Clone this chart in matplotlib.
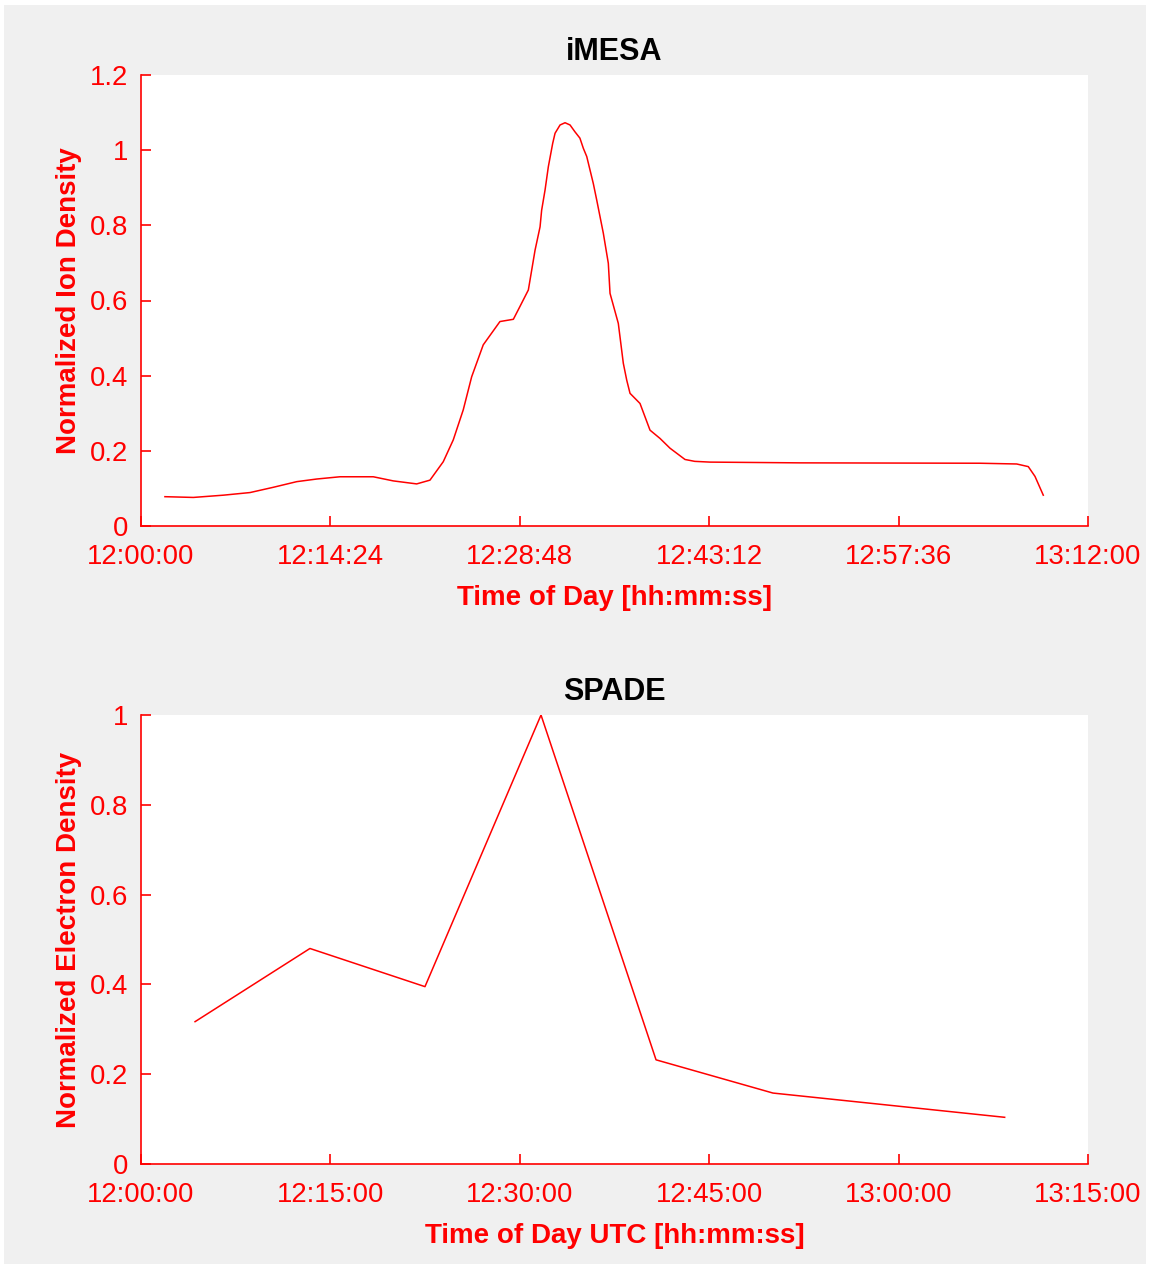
import matplotlib.pyplot as plt
from matplotlib.patches import Rectangle

plt.rcParams['font.family'] = ['Liberation Sans', 'DejaVu Sans']

# iMESA: minutes after 12:00:00 and normalized ion density
imesa_t = [1.82, 3.98, 6.26, 8.29, 10.06, 11.84, 13.36, 15.13, 17.66, 19.18,
           20.96, 21.97, 22.98, 23.74, 24.50, 25.14, 26.02, 27.29, 28.31, 28.81,
           29.45, 29.96, 30.34, 30.46, 30.72, 30.97, 31.30, 31.48, 31.86, 32.24,
           32.62, 32.99, 33.37, 33.63, 33.89, 34.14, 34.39, 34.65, 35.15, 35.53,
           35.66, 36.29, 36.67, 36.93, 37.18, 37.94, 38.70, 39.46, 40.22, 41.36,
           42.10, 43.26, 50.10, 63.79, 66.58, 67.46, 67.97, 68.60]
imesa_n = [0.078, 0.076, 0.082, 0.089, 0.103, 0.118, 0.125, 0.131, 0.131, 0.120,
           0.112, 0.122, 0.171, 0.229, 0.309, 0.397, 0.482, 0.544, 0.550, 0.584,
           0.628, 0.734, 0.796, 0.840, 0.894, 0.956, 1.018, 1.045, 1.067, 1.073,
           1.067, 1.049, 1.032, 1.005, 0.983, 0.947, 0.911, 0.867, 0.779, 0.699,
           0.619, 0.539, 0.433, 0.388, 0.353, 0.326, 0.255, 0.233, 0.207, 0.177,
           0.172, 0.170, 0.168, 0.167, 0.165, 0.158, 0.132, 0.082]

# SPADE: minutes after 12:00:00 and normalized electron density
spade_t = [4.28, 13.38, 22.49, 31.68, 40.79, 50.05, 68.40]
spade_n = [0.317, 0.480, 0.395, 1.0, 0.232, 0.158, 0.104]

top_ticks = [0, 14.4, 28.8, 43.2, 57.6, 72]
top_labels = ['12:00:00', '12:14:24', '12:28:48', '12:43:12', '12:57:36', '13:12:00']
bot_ticks = [0, 15, 30, 45, 60, 75]
bot_labels = ['12:00:00', '12:15:00', '12:30:00', '12:45:00', '13:00:00', '13:15:00']

red = '#ff0000'
W, H = 1151, 1268
fig = plt.figure(figsize=(W / 100, H / 100), dpi=100, facecolor='white')
fig.patches.append(Rectangle((4 / W, 4 / H), 1 - 9 / W, 1 - 9 / H,
                             transform=fig.transFigure, facecolor='#f0f0f0',
                             edgecolor='none', zorder=-10))


def style(ax, ticks, labels, xmax, ylabel, xlabel, title, yticks, ytl):
    ax.set_facecolor('white')
    for s in ['top', 'right']:
        ax.spines[s].set_visible(False)
    for s in ['left', 'bottom']:
        ax.spines[s].set_color(red)
        ax.spines[s].set_linewidth(1.2)
    ax.set_xlim(0, xmax)
    ax.set_xticks(ticks)
    ax.set_xticklabels(labels)
    ax.set_yticks(yticks)
    ax.set_yticklabels(ytl)
    ax.tick_params(direction='in', length=7, width=1.2, colors=red,
                   labelsize=19.8)
    ax.tick_params(axis='x', pad=13)
    ax.tick_params(axis='y', pad=9)
    ax.set_xlabel(xlabel, color=red, fontsize=20, fontweight='bold', labelpad=11)
    ax.set_ylabel(ylabel, color=red, fontsize=20, fontweight='bold', labelpad=6)
    ax.set_title(title, color='black', fontsize=22, fontweight='bold', pad=11)


ax1 = fig.add_axes([141 / W, 1 - 526 / H, 947 / W, 451 / H])
ax1.plot(imesa_t, imesa_n, color=red, lw=1.1)
ax1.set_ylim(0, 1.2)
style(ax1, top_ticks, top_labels, 72, 'Normalized Ion Density',
      'Time of Day [hh:mm:ss]', 'iMESA',
      [0, 0.2, 0.4, 0.6, 0.8, 1.0, 1.2], ['0', '0.2', '0.4', '0.6', '0.8', '1', '1.2'])

ax2 = fig.add_axes([141 / W, 1 - 1164 / H, 947 / W, 449 / H])
ax2.plot(spade_t, spade_n, color=red, lw=1.1)
ax2.set_ylim(0, 1.0)
style(ax2, bot_ticks, bot_labels, 75, 'Normalized Electron Density',
      'Time of Day UTC [hh:mm:ss]', 'SPADE',
      [0, 0.2, 0.4, 0.6, 0.8, 1.0], ['0', '0.2', '0.4', '0.6', '0.8', '1'])

plt.savefig('out.png', dpi=100, facecolor=fig.get_facecolor())
